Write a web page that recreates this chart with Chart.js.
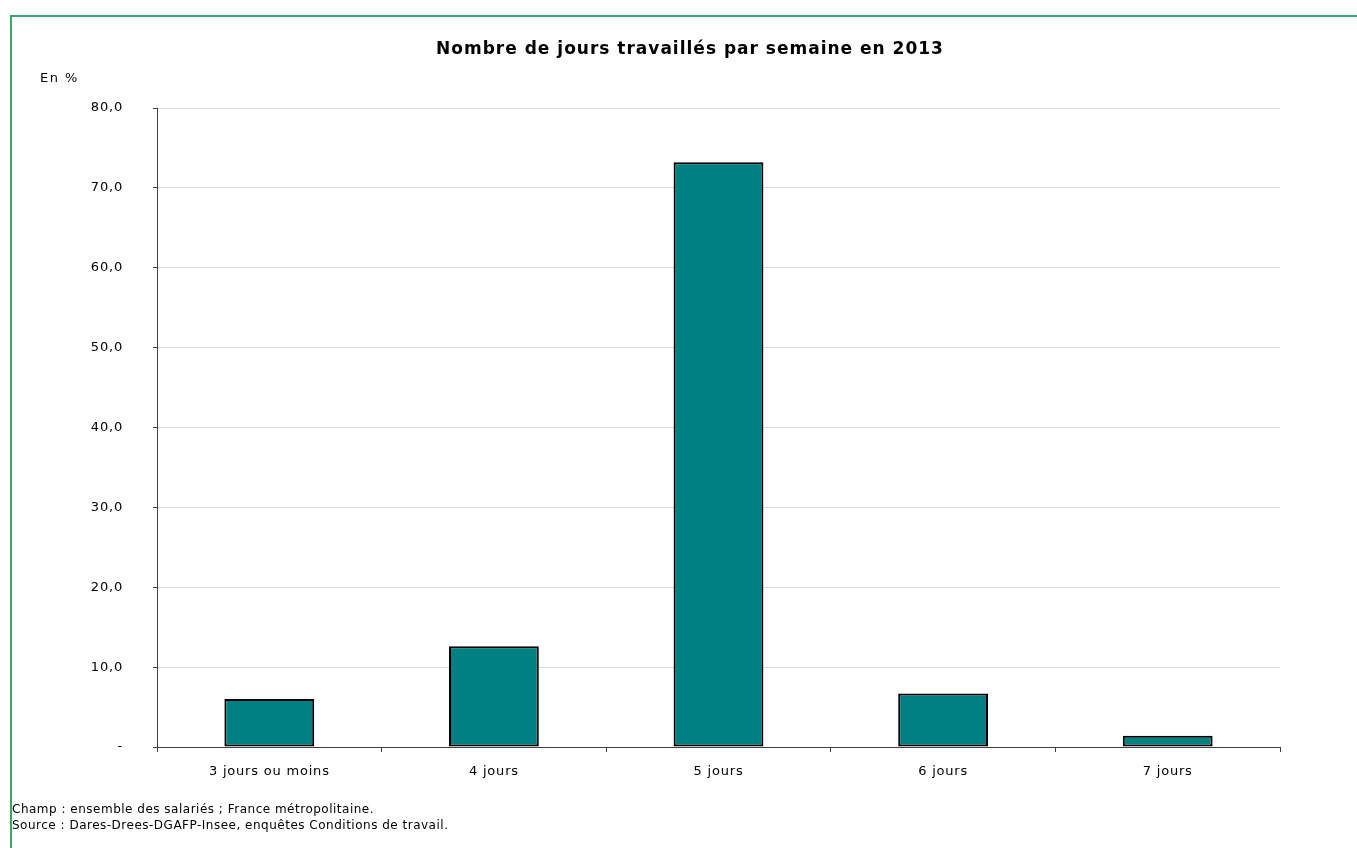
<!DOCTYPE html>
<html lang="fr">
<head>
<meta charset="utf-8">
<script src="https://cdn.jsdelivr.net/npm/chart.js@4.4.1/dist/chart.umd.min.js"></script>
<style>
  html, body { margin: 0; padding: 0; background: #fff; }
  body { width: 1357px; height: 848px; position: relative; overflow: hidden;
         font-family: "DejaVu Sans", Verdana, sans-serif; color: #000; }
  #frame { position: absolute; left: 10px; top: 15px; width: 1400px; height: 900px;
           border-top: 2px solid #3ea36b; border-left: 2px solid #3ea36b; }
  #chartBox { position: absolute; left: 0; top: 0; width: 1357px; height: 848px; }
  .txt { position: absolute; white-space: nowrap; }
  #title { left: 0; width: 1380px; top: 38px; text-align: center; font-weight: bold;
           font-size: 17px; letter-spacing: 1px; }
  #unit { left: 40px; top: 70px; font-size: 13px; letter-spacing: 1.5px; }
  #champ { left: 12px; top: 802px; font-size: 12px; letter-spacing: 0.5px; }
  #source { left: 12px; top: 818px; font-size: 12px; letter-spacing: 0.5px; }
</style>
</head>
<body>
<div id="frame"></div>
<div id="chartBox"><canvas id="daysChart"></canvas></div>
<div class="txt" id="title">Nombre de jours travaillés par semaine en 2013</div>
<div class="txt" id="unit">En %</div>
<div class="txt" id="champ">Champ : ensemble des salariés ; France métropolitaine.</div>
<div class="txt" id="source">Source : Dares-Drees-DGAFP-Insee, enquêtes Conditions de travail.</div>

<script>
// -----------------------------
// Data
// -----------------------------
const categories = ["3 jours ou moins", "4 jours", "5 jours", "6 jours", "7 jours"];
const shareValues = [6.0, 12.6, 73.2, 6.7, 1.4];
const yTicks = [0, 10, 20, 30, 40, 50, 60, 70, 80];

function formatTick(v) {
  if (v === 0) return "-";
  return v.toFixed(1).replace(".", ",");
}

// wider text, closer to the Verdana look of the original
const letterSpacingPlugin = {
  id: "letterSpacing",
  beforeUpdate: chart => { chart.ctx.letterSpacing = "0.8px"; },
  beforeDraw: chart => { chart.ctx.letterSpacing = "0.8px"; }
};

// -----------------------------
// Chart
// -----------------------------
document.addEventListener("DOMContentLoaded", () => {
  const ctx = document.getElementById("daysChart");

  new Chart(ctx, {
    type: "bar",
    data: {
      labels: categories,
      datasets: [
        {
          data: shareValues,
          backgroundColor: "#008080",
          borderColor: "#000000",
          borderWidth: 2,
          borderSkipped: false,
          barPercentage: 0.4,
          categoryPercentage: 1.0
        }
      ]
    },
    options: {
      responsive: true,
      maintainAspectRatio: false,
      animation: false,
      layout: {
        padding: { left: 0, right: 77, top: 108, bottom: 61 }
      },
      plugins: {
        legend: { display: false },
        tooltip: { enabled: false }
      },
      scales: {
        x: {
          offset: true,
          afterFit: scale => { scale.height = 40; },
          grid: {
            offset: true,
            drawOnChartArea: false,
            drawTicks: true,
            tickLength: 5,
            color: "#404040"
          },
          border: { color: "#404040", width: 1 },
          ticks: {
            color: "#000",
            padding: 12,
            font: { family: "DejaVu Sans", size: 13 }
          }
        },
        y: {
          min: 0,
          max: 80,
          afterFit: scale => { scale.width = 157; },
          afterBuildTicks: scale => {
            scale.ticks = yTicks.map(v => ({ value: v }));
          },
          grid: {
            color: "#d9d9d9",
            tickColor: "#404040",
            tickLength: 4,
            drawTicks: true
          },
          border: { color: "#404040", width: 1 },
          ticks: {
            color: "#000",
            padding: 30,
            font: { family: "DejaVu Sans", size: 13 },
            callback: v => formatTick(v)
          }
        }
      }
    },
    plugins: [letterSpacingPlugin]
  });
});
</script>
</body>
</html>
